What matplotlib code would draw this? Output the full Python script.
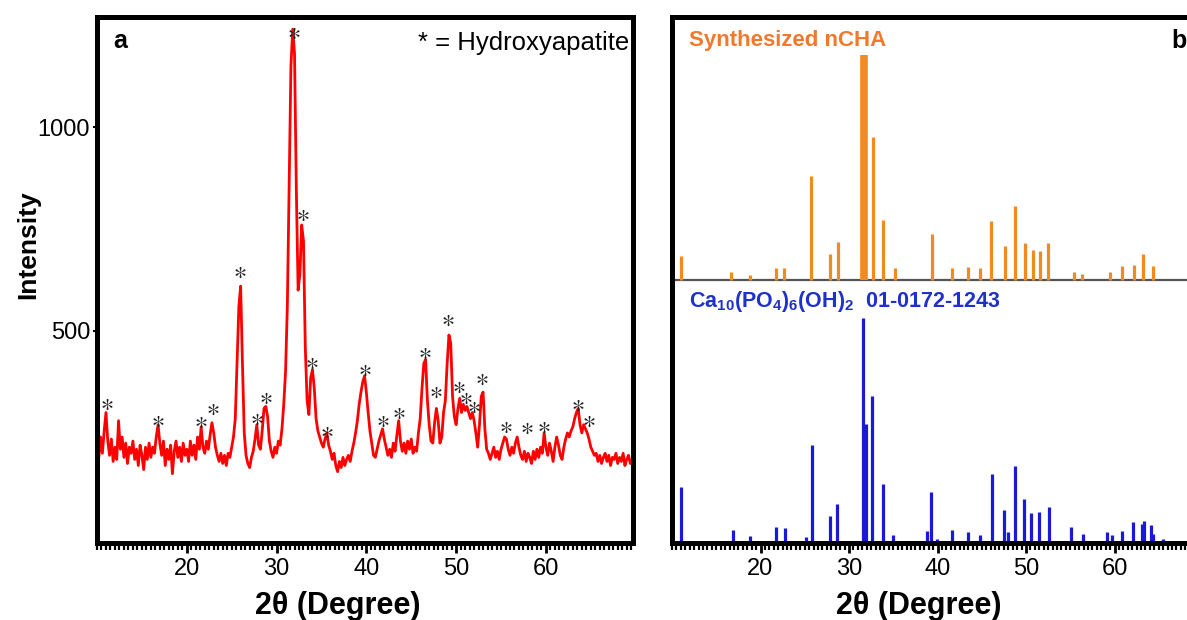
import numpy as np
import matplotlib
matplotlib.use("Agg")
import matplotlib.pyplot as plt
from matplotlib.ticker import MultipleLocator

plt.rcParams['font.family'] = ['Liberation Sans', 'DejaVu Sans']
plt.rcParams['mathtext.default'] = 'regular'

# ---- panel a: measured XRD pattern, 2theta = 10.0 ... 69.6 in 0.2 steps ----
start_2theta = 10.0
step_2theta = 0.2
intensity = [
    225, 190, 240, 200, 255, 300, 230, 195, 235, 180,   # 10.0 - 11.8
    215, 185, 280, 210, 240, 190, 225, 175, 215, 200,   # 12
    230, 185, 210, 170, 220, 195, 160, 215, 185, 225,   # 14
    190, 215, 200, 240, 270, 225, 195, 230, 170, 210,   # 16
    185, 220, 150, 205, 230, 190, 215, 180, 225, 195,   # 18
    210, 180, 230, 195, 220, 185, 240, 210, 265, 215,   # 20
    200, 230, 210, 245, 275, 250, 215, 195, 180, 200,   # 22
    175, 195, 170, 200, 190, 215, 240, 285, 420, 560,   # 24
    610, 420, 250, 195, 175, 165, 190, 205, 235, 270,   # 26
    220, 210, 255, 310, 315, 290, 230, 205, 190, 215,   # 28
    200, 230, 220, 260, 320, 400, 560, 850, 1150, 1240, # 30
    1180, 850, 600, 640, 760, 720, 460, 330, 295, 385,  # 32
    405, 360, 285, 255, 240, 225, 215, 235, 250, 220,   # 34
    205, 185, 200, 170, 155, 180, 165, 190, 170, 185,   # 36
    195, 180, 205, 225, 250, 280, 320, 350, 375, 390,   # 38
    350, 300, 255, 225, 195, 190, 210, 230, 245, 260,   # 40
    235, 215, 195, 210, 190, 225, 205, 245, 280, 230,   # 42
    205, 225, 200, 230, 210, 235, 200, 215, 205, 250,   # 44
    285, 360, 420, 430, 330, 270, 230, 225, 275, 310,   # 46
    280, 225, 240, 300, 330, 420, 490, 470, 340, 290,   # 48
    270, 310, 335, 300, 320, 305, 315, 300, 285, 300,   # 50
    280, 250, 215, 270, 340, 350, 260, 210, 200, 185,   # 52
    200, 215, 190, 205, 185, 210, 225, 240, 235, 210,   # 54
    195, 215, 200, 225, 240, 215, 195, 185, 205, 180,   # 56
    200, 190, 175, 205, 185, 210, 190, 215, 200, 250,   # 58
    215, 195, 225, 205, 180, 215, 240, 220, 195, 185,   # 60
    215, 235, 250, 240, 255, 265, 285, 300, 310, 270,   # 62
    250, 270, 260, 250, 235, 215, 205, 195, 200, 180,   # 64
    195, 175, 190, 200, 180, 195, 170, 190, 185, 200,   # 66
    175, 190, 180, 200, 170, 185, 195, 175, 185,        # 68 - 69.6
]

# peaks marked as hydroxyapatite (*)
star_2theta = [11.1, 16.8, 21.6, 22.9, 25.9, 27.8, 28.8, 31.9, 32.9, 34.0, 35.6,
               39.9, 41.8, 43.6, 46.5, 47.8, 49.1, 50.3, 51.1, 52.0, 52.9,
               55.6, 57.9, 59.8, 63.6, 64.8]
star_height = [321, 280, 276, 309, 645, 284, 335, 1230, 784, 422, 253,
               404, 280, 300, 445, 351, 527, 363, 335, 313, 382,
               265, 261, 264, 319, 278]

# ---- panel b: stick patterns (relative intensity, %) ----
ncha_2theta = [11.0, 16.7, 18.8, 21.7, 22.7, 25.7, 27.9, 28.8, 31.7, 32.7, 33.8,
               35.2, 39.4, 41.6, 43.4, 44.8, 46.1, 47.6, 48.8, 49.9, 50.8,
               51.6, 52.5, 55.4, 56.3, 59.5, 60.9, 62.2, 63.2, 64.4]
ncha_rel = [10.7, 3.6, 2.2, 5.3, 5.3, 46.2, 11.6, 16.9, 100, 63.6, 26.7,
            5.3, 20.4, 5.3, 5.8, 5.3, 26.2, 15.1, 32.9, 16.4, 13.3,
            12.9, 16.4, 3.6, 2.7, 3.6, 6.2, 6.7, 11.6, 6.2]

ref_2theta = [11.0, 16.9, 18.8, 21.7, 22.8, 25.1, 25.8, 27.9, 28.7, 31.6, 31.9,
              32.6, 33.8, 35.0, 37.8, 38.8, 39.3, 39.9, 41.6, 43.4, 44.8,
              45.9, 46.2, 47.5, 48.0, 48.8, 49.8, 50.6, 51.5, 52.6, 55.1,
              56.4, 57.2, 59.1, 59.7, 60.9, 62.1, 63.1, 63.3, 64.1, 64.4, 65.5]
ref_rel = [25.0, 5.8, 3.1, 7.1, 6.7, 2.7, 43.8, 12.1, 17.4, 100, 53.1,
           65.6, 26.3, 3.6, 0.5, 5.4, 22.8, 1.8, 5.8, 4.9, 3.6,
           0.9, 30.8, 14.7, 4.9, 34.4, 19.6, 13.4, 13.8, 16.1, 7.1,
           4.0, 0.9, 4.9, 3.6, 5.4, 9.4, 8.5, 9.8, 8.0, 4.0, 1.8]

two_theta = start_2theta + step_2theta * np.arange(len(intensity))

W, H = 1187, 620
fig = plt.figure(figsize=(W / 100, H / 100), dpi=100)

def px_axes(x0, x1, y0, y1):
    return fig.add_axes([x0 / W, 1 - y1 / H, (x1 - x0) / W, (y1 - y0) / H])

def style_bottom(ax):
    ax.set_xticks([20, 30, 40, 50, 60])
    ax.xaxis.set_minor_locator(MultipleLocator(0.5))
    ax.tick_params(axis='x', which='major', direction='out', length=7, width=2,
                   labelsize=17, pad=4)
    ax.tick_params(axis='x', which='minor', direction='out', length=5, width=1.6)
    for s in ax.spines.values():
        s.set_linewidth(3.6)

# panel a
ax1 = px_axes(97, 633, 17, 543)
ax1.plot(two_theta, intensity, color='#ff0000', lw=2.0)
ax1.scatter(star_2theta, star_height, marker=r'$\ast$', s=65, c='#222222',
            linewidths=0, zorder=3)
ax1.set_xlim(10, 69.7)
ax1.set_ylim(-20, 1270)
style_bottom(ax1)
ax1.set_yticks([500, 1000])
ax1.tick_params(axis='y', direction='out', length=3, width=1.5, labelsize=17, pad=2)
ax1.set_xlabel('2θ (Degree)', fontsize=22, fontweight='bold')
ax1.xaxis.set_label_coords(0.45, -0.092)
ax1.text(0.03, 0.955, 'a', transform=ax1.transAxes, fontsize=18, fontweight='bold',
         va='center', ha='left')
ax1.text(0.993, 0.95, '* = Hydroxyapatite', transform=ax1.transAxes, fontsize=18.5,
         va='center', ha='right')
fig.text(28 / W, 1 - 245 / H, 'Intensity', rotation=90, fontsize=19,
         fontweight='bold', ha='center', va='center')

# panel b (frame runs past the right edge of the picture)
ncha_offset = 50
stick_scale = 0.427
ax2 = px_axes(672, 1203, 17, 543)
ax2.set_xlim(10, 70)
ax2.set_ylim(0, 100)
ax2.axhline(ncha_offset, color='#555555', lw=1.6, zorder=1)
ax2.vlines(ncha_2theta, ncha_offset, ncha_offset + np.array(ncha_rel) * stick_scale,
           colors='#f28a22', linewidths=[5.5 if r == 100 else 2.3 for r in ncha_rel],
           zorder=2)
ax2.vlines(ref_2theta, 0, np.array(ref_rel) * stick_scale,
           colors='#1a1ad6', linewidths=2.3, zorder=2)
style_bottom(ax2)
ax2.set_yticks([])
ax2.set_xlabel('2θ (Degree)', fontsize=22, fontweight='bold')
ax2.xaxis.set_label_coords(0.465, -0.092)
ax2.text(0.032, 0.955, 'Synthesized nCHA', transform=ax2.transAxes, fontsize=16,
         fontweight='bold', color='#f2792c', va='center', ha='left')
ax2.text(0.032, (543 - 301) / 526, r'Ca$_{10}$(PO$_4$)$_6$(OH)$_2$  01-0172-1243',
         transform=ax2.transAxes, fontsize=15.5, fontweight='bold', color='#2030cc',
         va='center', ha='left')
fig.text(1171 / W, 1 - 41 / H, 'b', fontsize=18, fontweight='bold', va='center', ha='left')

fig.savefig('out.png', dpi=100)
